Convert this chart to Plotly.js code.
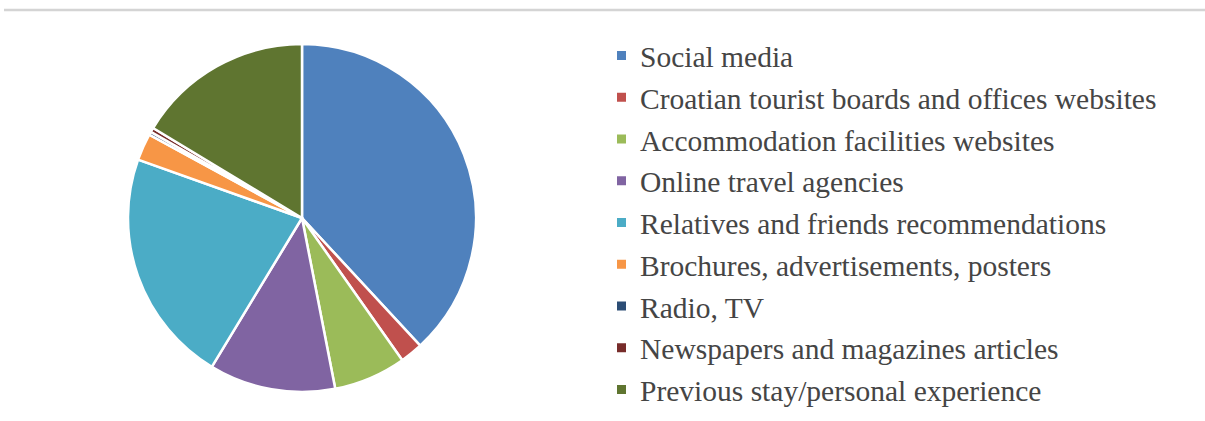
<!DOCTYPE html>
<html>
<head>
<meta charset="utf-8">
<script src="https://cdn.plot.ly/plotly-3.0.1.min.js"></script>
<style>html,body{margin:0;padding:0;background:#fff;}#chart{width:1205px;height:421px;}</style>
</head>
<body>
<div id="chart"></div>
<script>
var labels = [
  "Social media",
  "Croatian tourist boards and offices websites",
  "Accommodation facilities websites",
  "Online travel agencies",
  "Relatives and friends recommendations",
  "Brochures, advertisements, posters",
  "Radio, TV",
  "Newspapers and magazines articles",
  "Previous stay/personal experience"
];
var values = [38.0, 2.1, 6.7, 11.7, 21.7, 2.5, 0.3, 0.4, 16.3];
var colors = ["#4F81BD", "#C0504D", "#9BBB59", "#8064A2", "#4BACC6", "#F79646", "#2C4D75", "#772C2A", "#5F7530"];

var W = 1205, H = 421;
var cx = 302, cy = 218, r = 174;

var trace = {
  type: "pie",
  labels: labels,
  values: values,
  sort: false,
  direction: "clockwise",
  rotation: 0,
  textinfo: "none",
  hoverinfo: "label+percent",
  marker: { colors: colors, line: { color: "#ffffff", width: 2.5 } },
  domain: { x: [(cx - r) / W, (cx + r) / W], y: [(H - cy - r) / H, (H - cy + r) / H] },
  showlegend: false
};

var annotations = [];
var shapes = [];
var legX = 638, legY0 = 57, legStep = 41.75;
labels.forEach(function (lab, i) {
  var y = legY0 + i * legStep;
  annotations.push({
    xref: "paper", yref: "paper",
    x: legX / W, y: 1 - y / H,
    xanchor: "left", yanchor: "middle",
    showarrow: false,
    text: lab,
    font: { family: "Liberation Serif", size: 29.5, color: "#454545" }
  });
  shapes.push({
    type: "rect", xref: "paper", yref: "paper",
    x0: 617 / W, x1: 626 / W,
    y0: 1 - (y - 6) / H, y1: 1 - (y + 3) / H,
    fillcolor: colors[i], line: { width: 0 }
  });
});
shapes.push({
  type: "line", xref: "paper", yref: "paper",
  x0: 4 / W, x1: 1, y0: 1 - 10 / H, y1: 1 - 10 / H,
  line: { color: "#d4d4d4", width: 2.5 }
});

var layout = {
  width: W, height: H,
  margin: { l: 0, r: 0, t: 0, b: 0 },
  showlegend: false,
  annotations: annotations,
  shapes: shapes
};

Plotly.newPlot("chart", [trace], layout, { displayModeBar: false, staticPlot: true });
</script>
</body>
</html>
